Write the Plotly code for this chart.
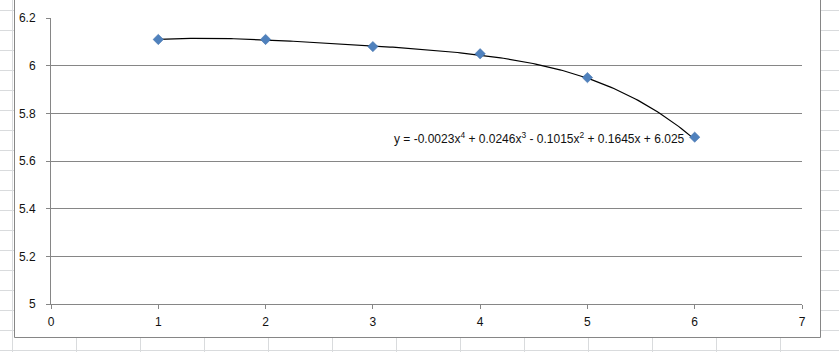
import numpy as np
import plotly.graph_objects as go

# Data
x_vals = [1, 2, 3, 4, 5, 6]
y_vals = [6.11, 6.11, 6.08, 6.05, 5.95, 5.70]
# Trendline polynomial coefficients (from label, highest power first)
trend_coefs = [-0.0023, 0.0246, -0.1015, 0.1645, 6.025]
trend_label = "y = -0.0023x<sup>4</sup> + 0.0246x<sup>3</sup> - 0.1015x<sup>2</sup> + 0.1645x + 6.025"
x_ticks = [0, 1, 2, 3, 4, 5, 6, 7]
y_ticks = [5, 5.2, 5.4, 5.6, 5.8, 6, 6.2]
y_tick_text = ["5", "5.2", "5.4", "5.6", "5.8", "6", "6.2"]

W, H = 839, 352
L, R, T, B = 51, 37, 18, 48
PW, PH = W - L - R, H - T - B

def px(xp):
    return (xp - L) / PW

def py(yp):
    return (H - B - yp) / PH

tx = np.linspace(min(x_vals), max(x_vals), 200)
ty = np.polyval(trend_coefs, tx)

fig = go.Figure()
fig.add_trace(go.Scatter(x=tx, y=ty, mode="lines",
                         line=dict(color="black", width=1.2),
                         hoverinfo="skip", showlegend=False))
fig.add_trace(go.Scatter(x=x_vals, y=y_vals, mode="markers",
                         marker=dict(symbol="diamond", size=8, color="#4f81bd",
                                     line=dict(color="#3f6ea8", width=0.5)),
                         showlegend=False))

shapes = []
cell = "#d9dbdd"
# spreadsheet cell lines (outside chart area)
for yp in range(10, 352, 20):
    shapes.append(dict(type="line", xref="paper", yref="paper",
                       x0=px(-5), x1=px(845), y0=py(yp + 0.5), y1=py(yp + 0.5),
                       line=dict(color=cell, width=1), layer="below"))
for xp in range(12, 845, 64):
    shapes.append(dict(type="line", xref="paper", yref="paper",
                       x0=px(xp + 0.5), x1=px(xp + 0.5), y0=py(-5), y1=py(360),
                       line=dict(color=cell, width=1), layer="below"))
# chart area
shapes.append(dict(type="rect", xref="paper", yref="paper",
                   x0=px(14.5), x1=px(820.5), y0=py(337.5), y1=py(-5),
                   fillcolor="white", line=dict(color="#868686", width=1), layer="below"))

fig.update_layout(
    width=W, height=H,
    margin=dict(l=L, r=R, t=T, b=B),
    paper_bgcolor="white", plot_bgcolor="rgba(0,0,0,0)",
    font=dict(family="Liberation Sans, Arial, sans-serif", size=12, color="#111111"),
    shapes=shapes,
    annotations=[dict(x=4.549, y=5.6965, xref="x", yref="y", text=trend_label,
                      showarrow=False, font=dict(size=12, color="#111111"))],
    xaxis=dict(range=[0, 7], tickvals=x_ticks, showgrid=False, zeroline=False,
               showline=True, linecolor="#868686", linewidth=1,
               ticks="outside", ticklen=4, tickcolor="#868686", tickwidth=1,
               ticklabelstandoff=3),
    yaxis=dict(range=[5, 6.2], tickvals=y_ticks, ticktext=y_tick_text,
               showgrid=True, gridcolor="#868686", gridwidth=1, zeroline=False,
               showline=True, linecolor="#868686", linewidth=1,
               ticks="outside", ticklen=4, tickcolor="#868686", tickwidth=1,
               ticklabelstandoff=8),
)

fig.write_html("out.html")
